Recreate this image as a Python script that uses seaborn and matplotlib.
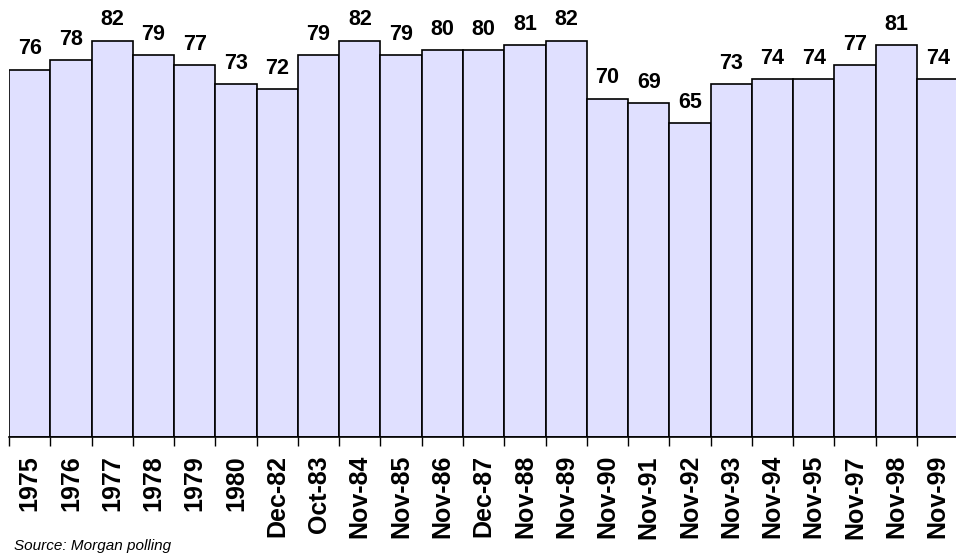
import matplotlib
matplotlib.use("Agg")
import matplotlib.pyplot as plt
import seaborn as sns
import pandas as pd

# survey dates and percentages
periods = ['1975', '1976', '1977', '1978', '1979', '1980', 'Dec-82', 'Oct-83',
           'Nov-84', 'Nov-85', 'Nov-86', 'Dec-87', 'Nov-88', 'Nov-89', 'Nov-90',
           'Nov-91', 'Nov-92', 'Nov-93', 'Nov-94', 'Nov-95', 'Nov-97', 'Nov-98',
           'Nov-99']
values = [76, 78, 82, 79, 77, 73, 72, 79, 82, 79, 80, 80, 81, 82, 70,
          69, 65, 73, 74, 74, 77, 81, 74]
source_note = "Source: Morgan polling"

df = pd.DataFrame({'Period': periods, 'Value': values})

sns.set_style("white")
plt.rcParams['font.family'] = ['Liberation Sans', 'DejaVu Sans']
plt.rcParams['text.color'] = 'black'
plt.rcParams['xtick.color'] = 'black'
plt.rcParams['xtick.labelcolor'] = 'black'

fig = plt.figure(figsize=(9.56, 5.53), dpi=100)
ax = fig.add_axes([9 / 956, 116 / 553, 949.3 / 956, 435 / 553])

sns.barplot(data=df, x='Period', y='Value', color='#E0E0FF', saturation=1,
            width=1.0, edgecolor='black', linewidth=1.2, ax=ax)

# value labels above bars
for i, v in enumerate(values):
    ax.annotate(str(v), (i, v), xytext=(0, 11), textcoords='offset points',
                ha='center', va='baseline', fontsize=15.5, fontweight='bold',
                color='black')

ax.set_xlim(-0.5, len(periods) - 0.5)
ax.set_ylim(0, 90)
ax.set_xlabel('')
ax.set_ylabel('')
ax.set_yticks([])

# labels at bar centres, tick marks at bar boundaries
ax.set_xticks(range(len(periods)))
ax.set_xticklabels(periods, rotation=90, fontsize=18, fontweight='bold',
                   color='black')
ax.set_xticks([i - 0.5 for i in range(len(periods) + 1)], minor=True)
ax.tick_params(axis='x', which='major', length=0, pad=13)
ax.tick_params(axis='x', which='minor', length=6.5, width=1, color='black',
               direction='out', bottom=True)

for side in ['top', 'right', 'left']:
    ax.spines[side].set_visible(False)
ax.spines['bottom'].set_color('black')
ax.spines['bottom'].set_linewidth(1.2)

fig.text(14 / 956, 3 / 553, source_note, fontsize=11, fontstyle='italic',
         ha='left', va='baseline', color='black')

fig.savefig('out.png', dpi=100)
